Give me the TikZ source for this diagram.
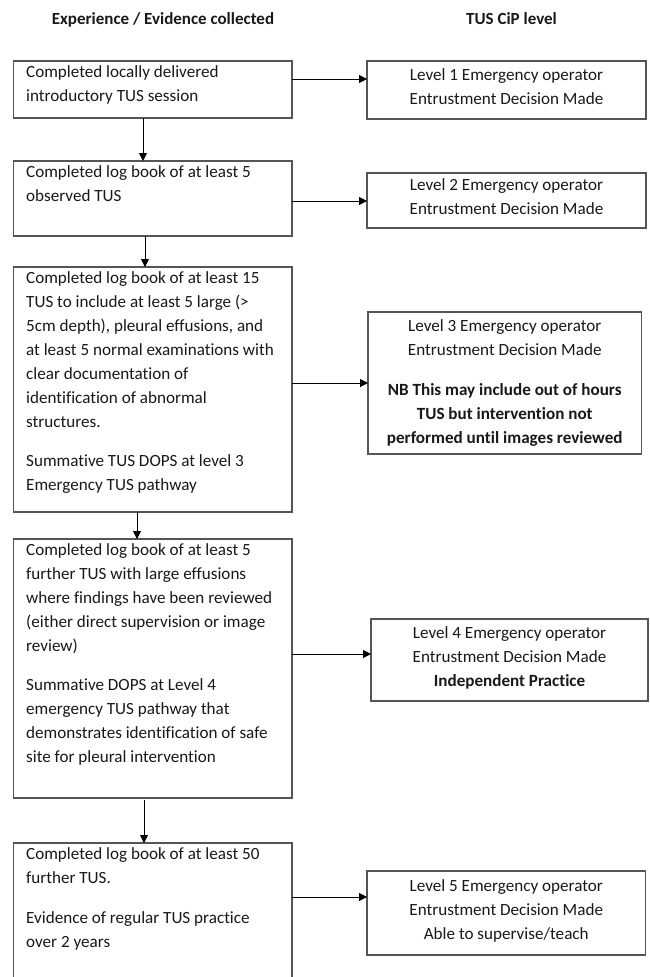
\documentclass[tikz,border=0pt]{standalone}
\usepackage{fontspec}
\setmainfont{Carlito}[Ligatures=CommonOff]
\usetikzlibrary{arrows.meta,calc,fit}
\definecolor{boxgray}{RGB}{85,85,85}
\definecolor{txt}{RGB}{25,25,25}
\begin{document}
\begin{tikzpicture}[x=1pt,y=-1pt,
  box/.style={draw=boxgray, line width=1.2pt, inner sep=0pt, outer sep=0pt, rectangle},
  ltext/.style={anchor=north west, inner sep=0pt, align=left, text=txt, font=\fontsize{17.1}{24}\selectfont, execute at begin node=\strut},
  rtext/.style={anchor=center, inner sep=0pt, align=center, text=txt, font=\fontsize{17.1}{24}\selectfont, execute at begin node=\strut, execute at end node=\strut},
  arr/.style={draw=black, line width=1pt, -{Triangle[length=8pt,width=8pt]}},
  head/.style={anchor=base, inner sep=0pt, text=txt, font=\fontsize{17}{24}\selectfont\bfseries}]

\useasboundingbox (0,0) rectangle (649,977);
\fill[white] (0,0) rectangle (649,977);
\clip (0,0) rectangle (649,977);

% headers
\node[head] (H1) at (163,24) {Experience / Evidence collected};
\node[head] (H2) at (511.5,24) {TUS CiP level};

% left boxes
\node[box, fit={(13.5,61) (292,118)}] (L1) {};
\node[box, fit={(13.5,161) (292,236)}] (L2) {};
\node[box, fit={(13.5,267) (292,512)}] (L3) {};
\node[box, fit={(13.5,539) (292,798)}] (L4) {};
\node[box, fit={(13.5,843) (292,990)}] (L5) {};

% right boxes
\node[box, fit={(367,61) (646,119)}] (R1) {};
\node[box, fit={(367,173) (646,228)}] (R2) {};
\node[box, fit={(368,312) (641.5,454)}] (R3) {};
\node[box, fit={(371,619) (648,701)}] (R4) {};
\node[box, fit={(367,871) (645.5,955)}] (R5) {};

% left texts
\node[ltext] (L1t) at ($(L1.north west)+(12.5,4.5)$)
  {Completed locally delivered\\introductory TUS session};
\node[ltext] (L2t) at ($(L2.north west)+(12.5,4.5)$)
  {Completed log book of at least 5\\observed TUS};
\node[ltext] (L3t) at ($(L3.north west)+(12.5,4.5)$)
  {Completed log book of at least 15\\TUS to include at least 5 large (>\\5cm depth), pleural effusions, and\\at least 5 normal examinations with\\clear documentation of\\identification of abnormal\\structures.\\[15pt]Summative TUS DOPS at level 3\\Emergency TUS pathway};
\node[ltext] (L4t) at ($(L4.north west)+(12.5,4.5)$)
  {Completed log book of at least 5\\further TUS with large effusions\\where findings have been reviewed\\(either direct supervision or image\\review)\\[15pt]Summative DOPS at Level 4\\emergency TUS pathway that\\demonstrates identification of safe\\site for pleural intervention};
\node[ltext] (L5t) at ($(L5.north west)+(12.5,4.5)$)
  {Completed log book of at least 50\\further TUS.\\[16pt]Evidence of regular TUS practice\\over 2 years};

% right texts
\node[rtext] (R1t) at (R1.center) {Level 1 Emergency operator\\Entrustment Decision Made};
\node[rtext] (R2t) at (R2.center) {Level 2 Emergency operator\\Entrustment Decision Made};
\node[rtext] (R3t) at ($(R3.center)+(0,2)$) {Level 3 Emergency operator\\Entrustment Decision Made\\[16pt]\textbf{NB This may include out of hours}\\\textbf{TUS but intervention not}\\\textbf{performed until images reviewed}};
\node[rtext] (R4t) at (R4.center) {Level 4 Emergency operator\\Entrustment Decision Made\\\textbf{Independent Practice}};
\node[rtext] (R5t) at (R5.center) {Level 5 Emergency operator\\Entrustment Decision Made\\Able to supervise/teach};

% horizontal connectors
\coordinate (a1) at ($(L1.north east)+(0,18)$);
\coordinate (a2) at ($(L2.north east)+(0,40)$);
\coordinate (a3) at ($(L3.north east)+(0,116)$);
\coordinate (a4) at ($(L4.north east)+(0,115)$);
\coordinate (a5) at ($(L5.north east)+(0,54)$);
\draw[arr] (a1) -- (a1 -| R1.west);
\draw[arr] (a2) -- (a2 -| R2.west);
\draw[arr] (a3) -- (a3 -| R3.west);
\draw[arr] (a4) -- (a4 -| R4.west);
\draw[arr] (a5) -- (a5 -| R5.west);

% vertical connectors
\draw[arr] ([xshift=129.5pt]L1.south west) -- ([xshift=129.5pt]L2.north west);
\draw[arr] ([xshift=131.5pt]L2.south west) -- ([xshift=131.5pt]L3.north west);
\draw[arr] ([xshift=123.5pt]L3.south west) -- ([xshift=123.5pt]L4.north west);
\draw[arr] ([xshift=130.5pt,yshift=-2pt]L4.south west) -- ([xshift=130.5pt]L5.north west);
\end{tikzpicture}
\end{document}
